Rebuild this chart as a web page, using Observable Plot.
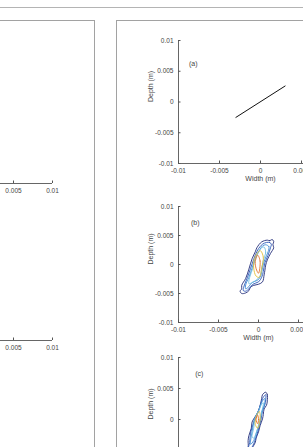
<!DOCTYPE html>
<html><head><meta charset="utf-8">
<script src="https://cdn.jsdelivr.net/npm/d3@7"></script>
<script src="https://cdn.jsdelivr.net/npm/@observablehq/plot@0.6"></script>
<style>
html,body{margin:0;padding:0;background:#fff;width:303px;height:447px;overflow:hidden;position:relative;font-family:"Liberation Sans",Arial,sans-serif}
.abs{position:absolute}
#topline{left:0;top:7px;width:303px;height:0;border-top:1px solid #b4b4b4}
#leftbox{left:-20px;top:20px;width:113px;height:600px;border:1.5px solid #a2a2a2}
#rightbox{left:116px;top:20px;width:300px;height:600px;border:1.5px solid #a2a2a2}
</style></head><body>
<div id="topline" class="abs"></div>
<div id="leftbox" class="abs"></div>
<div id="rightbox" class="abs"></div>
<script>
// ---- data ----
const axisTicks = [-0.01, -0.005, 0, 0.005, 0.01];
const tickLabels = ["-0.01", "-0.005", "0", "0.005", "0.01"];
const rightPanelXTicks = [-0.01, -0.005, 0, 0.005]; // x ticks of the right panel that are in view
const leftPanelTicks = [0.005, 0.01];               // the part of the left panel's x axes that is in view
const xLabel = "Width (m)";
const yLabel = "Depth (m)";
const panelLetters = ["(a)", "(b)", "(c)"];
const letterX = [-0.0082, -0.0079, -0.0074];
const letterY = [0.0063, 0.0072, 0.0074];

// panel (a): straight line
const lineAX = [-0.003, 0.003];
const lineAY = [-0.0025, 0.0026];

// contour levels (outer -> inner)
const levels = ["1", "2", "3", "4", "5", "6"];
const levelColors = ["#222d78", "#2c58b8", "#3f8ad2", "#72c0e2", "#e2bf3a", "#e2702a"];

// panel (b) contours, [width, depth]
const contourB = [
  [[0.0011,0.0042],[0.0014,0.0041],[0.0017,0.0043],[0.0019,0.0040],[0.0018,0.0034],[0.0019,0.0029],[0.0015,0.0019],[0.0011,0.0008],[0.0009,-0.0001],[0.0008,-0.0010],[0.0007,-0.0018],[0.0005,-0.0030],[0.0000,-0.0034],[-0.0006,-0.0036],[-0.0010,-0.0039],[-0.0012,-0.0045],[-0.0016,-0.0049],[-0.0021,-0.0050],[-0.0023,-0.0046],[-0.0021,-0.0042],[-0.0021,-0.0036],[-0.0016,-0.0024],[-0.0012,-0.0008],[-0.0008,0.0010],[-0.0004,0.0022],[-0.0002,0.0029],[0.0004,0.0039]],
  [[0.0010,0.0038],[0.0014,0.0038],[0.0016,0.0035],[0.0015,0.0029],[0.0012,0.0016],[0.0008,0.0003],[0.0006,-0.0012],[0.0004,-0.0022],[0.0000,-0.0030],[-0.0007,-0.0034],[-0.0012,-0.0042],[-0.0016,-0.0046],[-0.0019,-0.0045],[-0.0018,-0.0037],[-0.0014,-0.0023],[-0.0010,-0.0007],[-0.0006,0.0009],[-0.0001,0.0025],[0.0005,0.0035]],
  [[0.0009,0.0034],[0.0013,0.0031],[0.0012,0.0022],[0.0008,0.0009],[0.0005,-0.0005],[0.0003,-0.0019],[-0.0001,-0.0027],[-0.0008,-0.0031],[-0.0012,-0.0038],[-0.0016,-0.0042],[-0.0016,-0.0035],[-0.0012,-0.0022],[-0.0008,-0.0006],[-0.0004,0.0010],[0.0001,0.0024],[0.0005,0.0032]],
  [[0.0007,0.0030],[0.0009,0.0021],[0.0006,0.0007],[0.0004,-0.0007],[0.0002,-0.0020],[-0.0003,-0.0027],[-0.0009,-0.0032],[-0.0012,-0.0033],[-0.0011,-0.0022],[-0.0007,-0.0006],[-0.0004,0.0009],[0.0000,0.0022],[0.0004,0.0029]],
  [[0.0002,0.0024],[0.0006,0.0013],[0.0004,-0.0006],[0.0001,-0.0022],[-0.0003,-0.0020],[-0.0006,-0.0006],[-0.0005,0.0010]],
  [[-0.0001,0.0016],[0.0002,0.0006],[0.0000,-0.0015],[-0.0003,-0.0007],[-0.0004,0.0005]]
];

// panel (c) contours
const contourC = [
  [[0.0009,0.0044],[0.0011,0.0040],[0.0011,0.0030],[0.0010,0.0023],[0.0007,0.0017],[0.0006,0.0008],[0.0005,0.0001],[0.0002,-0.0010],[0.0000,-0.0020],[-0.0003,-0.0030],[-0.0004,-0.0037],[-0.0008,-0.0046],[-0.0011,-0.0053],[-0.0015,-0.0055],[-0.0016,-0.0050],[-0.0013,-0.0044],[-0.0013,-0.0034],[-0.0012,-0.0026],[-0.0009,-0.0014],[-0.0008,-0.0004],[-0.0002,0.0009],[0.0001,0.0018],[0.0003,0.0028],[0.0004,0.0034],[0.0005,0.0040]],
  [[0.0009,0.0040],[0.0009,0.0031],[0.0008,0.0024],[0.0005,0.0014],[0.0003,-0.0001],[-0.0001,-0.0020],[-0.0005,-0.0036],[-0.0009,-0.0046],[-0.0013,-0.0049],[-0.0011,-0.0037],[-0.0010,-0.0022],[-0.0006,-0.0005],[-0.0001,0.0010],[0.0003,0.0026],[0.0006,0.0036]],
  [[0.0008,0.0034],[0.0007,0.0022],[0.0004,0.0012],[0.0002,-0.0003],[-0.0002,-0.0019],[-0.0006,-0.0034],[-0.0010,-0.0040],[-0.0009,-0.0027],[-0.0007,-0.0012],[-0.0005,0.0002],[0.0000,0.0014],[0.0004,0.0028]],
  [[0.0006,0.0027],[0.0004,0.0012],[0.0001,-0.0004],[-0.0002,-0.0018],[-0.0006,-0.0030],[-0.0008,-0.0028],[-0.0006,-0.0014],[-0.0004,0.0002],[0.0001,0.0016],[0.0004,0.0025]],
  [[0.0001,0.0013],[0.0002,0.0000],[-0.0001,-0.0014],[-0.0004,-0.0008],[-0.0003,0.0004]],
  [[-0.0001,0.0007],[0.0000,0.0000],[-0.0001,-0.0007],[-0.0003,0.0000]]
];

// ---- helpers ----
const fmt = d => tickLabels[axisTicks.indexOf(d)];
const FONT = "Liberation Sans, Arial, sans-serif";
const TXT = "#454545";
const contourRows = cs => cs.flatMap((pts, i) => pts.map(([x, y]) => ({x, y, level: levels[i]})));

function place(plot, left, top, w, h) {
  const div = document.createElement("div");
  div.className = "abs";
  div.style.left = left + "px";
  div.style.top = top + "px";
  div.style.width = w + "px";
  div.style.height = h + "px";
  div.append(plot);
  document.body.append(div);
}

function subplot({x0, y0, w, h, idx, marks}) {
  const m = {l: 45, t: 8, r: 10, b: 28};
  const W = m.l + w + m.r, H = m.t + h + m.b;
  const plot = Plot.plot({
    width: W, height: H,
    marginLeft: m.l, marginTop: m.t, marginRight: m.r, marginBottom: m.b,
    x: {domain: [-0.01, 0.01]},
    y: {domain: [-0.01, 0.01]},
    color: {domain: levels, range: levelColors},
    style: {fontFamily: FONT, fontSize: "6.5px", color: TXT, background: "transparent", overflow: "visible"},
    marks: [
      Plot.ruleX([-0.01], {stroke: "#555", strokeWidth: 0.9}),
      Plot.ruleY([-0.01], {stroke: "#555", strokeWidth: 0.9}),
      Plot.axisX({ticks: rightPanelXTicks, tickFormat: fmt, tickSize: -2.5, tickPadding: 7, label: null, stroke: "#555"}),
      Plot.axisY({ticks: axisTicks, tickFormat: fmt, tickSize: -2.5, tickPadding: 7.5, label: null, stroke: "#555"}),
      Plot.text([xLabel], {text: d => d, frameAnchor: "bottom", dy: 17, fontSize: 7, fill: TXT}),
      Plot.text([yLabel], {text: d => d, frameAnchor: "left", dx: -28, rotate: -90, fontSize: 7, fill: TXT}),
      Plot.text([panelLetters[idx]], {x: () => letterX[idx], y: () => letterY[idx], text: d => d, fontSize: 7, fill: TXT}),
      ...marks
    ]
  });
  place(plot, x0 - m.l, y0 - m.t, W, H);
}

function leftAxis({x0, yBottom, w}) {
  const h = 120;
  const m = {l: 10, t: 5, r: 10, b: 25};
  const W = m.l + w + m.r, H = m.t + h + m.b;
  const plot = Plot.plot({
    width: W, height: H,
    marginLeft: m.l, marginTop: m.t, marginRight: m.r, marginBottom: m.b,
    x: {domain: [-0.01, 0.01]},
    y: {domain: [-0.01, 0.01], axis: null},
    style: {fontFamily: FONT, fontSize: "6.5px", color: TXT, background: "transparent", overflow: "visible"},
    marks: [
      Plot.ruleY([-0.01], {stroke: "#555", strokeWidth: 0.9}),
      Plot.axisX({ticks: leftPanelTicks, tickFormat: fmt, tickSize: -2.5, tickPadding: 7, label: null, stroke: "#555"})
    ]
  });
  place(plot, x0 - m.l, yBottom - h - m.t, W, H);
}

// left panel (only the right end of its x axes is in view)
leftAxis({x0: -104, yBottom: 183, w: 156});
leftAxis({x0: -104, yBottom: 340, w: 156});

// (a)
const lineA = lineAX.map((x, i) => ({x, y: lineAY[i]}));
subplot({x0: 178, y0: 40, w: 164, h: 123, idx: 0, marks: [
  Plot.line(lineA, {x: "x", y: "y", stroke: "#111", strokeWidth: 1})
]});
// (b)
subplot({x0: 178, y0: 206, w: 160, h: 116, idx: 1, marks: [
  Plot.line(contourRows(contourB), {x: "x", y: "y", z: "level", stroke: "level", curve: "catmull-rom-closed", strokeWidth: 0.9})
]});
// (c)
subplot({x0: 178, y0: 357, w: 160, h: 124, idx: 2, marks: [
  Plot.line(contourRows(contourC), {x: "x", y: "y", z: "level", stroke: "level", curve: "catmull-rom-closed", strokeWidth: 0.9})
]});
</script>
</body></html>
